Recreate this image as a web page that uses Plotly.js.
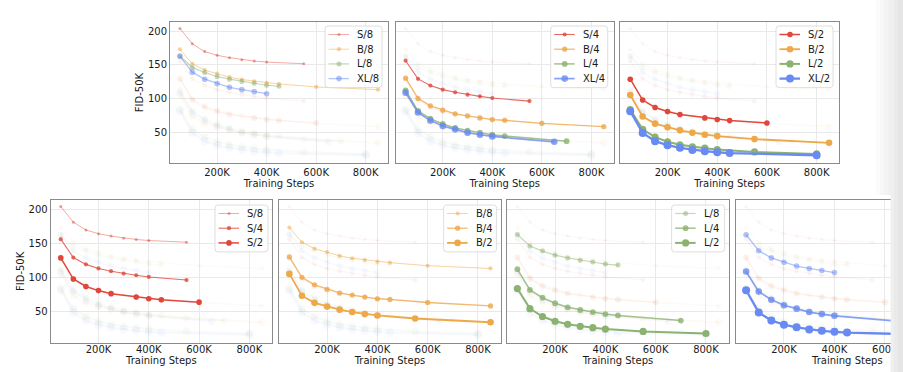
<!DOCTYPE html>
<html><head><meta charset="utf-8">
<script src="https://cdn.plot.ly/plotly-3.0.1.min.js"></script>
<style>html,body{margin:0;padding:0;background:#fff}#chart{width:903px;height:372px}</style>
</head><body><div id="chart"></div>
<script>
// ---------- data (training steps in thousands, FID-50K) ----------
const S8_steps = [50,100,150,200,250,300,350,400,550];
const S8_fid   = [204,181,169.5,164,160.5,157.5,155.5,154,151.5];
const S4_steps = [50,100,150,200,250,300,350,400,550];
const S4_fid   = [156,129,119,113,109,105.5,103,100.5,96];
const S2_steps = [50,100,150,200,250,350,400,450,600];
const S2_fid   = [128.5,97.5,86.5,80.5,76,71,68.5,67,63.5];
const B8_steps = [50,100,150,200,250,300,350,400,450,600,850];
const B8_fid   = [173,151.5,142,137,131.5,128,125.5,123,121.5,117,113];
const B4_steps = [50,100,150,200,250,300,350,400,450,600,850];
const B4_fid   = [130,100,89,82.5,77,74,71,68.5,67.5,63,58];
const B2_steps = [50,100,150,200,250,300,350,400,550,850];
const B2_fid   = [105,73,62.5,57,52.5,49,46,44,39.5,34];
const L8_steps = [50,100,150,200,250,300,350,400,450];
const L8_fid   = [163,146,138.5,132.5,128.5,125,122.5,119.5,118];
const L4_steps = [50,100,150,200,250,300,350,400,450,700];
const L4_fid   = [112,81.5,70,62,56,52,49,46,44,36.5];
const L2_steps = [50,100,150,200,250,300,350,400,550,800];
const L2_fid   = [83.5,54,42.5,35.5,31,28,26,24,20.5,17.5];
const XL8_steps = [50,100,150,200,250,300,350,400];
const XL8_fid   = [162.5,139,128.5,122,116.5,113,110,107];
const XL4_steps = [50,100,150,200,250,300,350,400,650];
const XL4_fid   = [108.5,79,67,59,54,49,46,43.5,35.5];
const XL2_steps = [50,100,150,200,250,300,350,400,450,800];
const XL2_fid   = [81,48.5,36.5,30.5,26.5,23.5,21.5,20,18.8,15.5];

const xTickVals = [200,400,600,800];
const xTickText = ['200K','400K','600K','800K'];
const yTickVals = [50,100,150,200];

const SERIES = [
  {name:'S/8',  model:'S',  patch:8, x:S8_steps,  y:S8_fid},
  {name:'B/8',  model:'B',  patch:8, x:B8_steps,  y:B8_fid},
  {name:'L/8',  model:'L',  patch:8, x:L8_steps,  y:L8_fid},
  {name:'XL/8', model:'XL', patch:8, x:XL8_steps, y:XL8_fid},
  {name:'S/4',  model:'S',  patch:4, x:S4_steps,  y:S4_fid},
  {name:'B/4',  model:'B',  patch:4, x:B4_steps,  y:B4_fid},
  {name:'L/4',  model:'L',  patch:4, x:L4_steps,  y:L4_fid},
  {name:'XL/4', model:'XL', patch:4, x:XL4_steps, y:XL4_fid},
  {name:'S/2',  model:'S',  patch:2, x:S2_steps,  y:S2_fid},
  {name:'B/2',  model:'B',  patch:2, x:B2_steps,  y:B2_fid},
  {name:'L/2',  model:'L',  patch:2, x:L2_steps,  y:L2_fid},
  {name:'XL/2', model:'XL', patch:2, x:XL2_steps, y:XL2_fid}
];

// ---------- styles ----------
const COLORS = {S:[224,71,60], B:[238,168,72], L:[139,178,112], XL:[104,138,242]};
const ALPHA  = {8:0.5, 4:0.8, 2:1};
const GHOST  = 0.055;
const MSIZE  = {S:{8:3,4:4.2,2:5.6}, B:{8:4.2,4:5.2,2:6.6}, L:{8:5,4:5.8,2:7.2}, XL:{8:5.6,4:6.6,2:8}};
const LWIDTH = {S:{8:0.9,4:1.1,2:1.5}, B:{8:1,4:1.3,2:1.8}, L:{8:1.2,4:1.5,2:2}, XL:{8:1.3,4:1.7,2:2.3}};

const W = 903, H = 372;
const PANELS = [
  {px:[170,388],     py:[22,163],    key:'patch', val:8,   ylab:true,  legend:true,  xr:[10,890]},
  {px:[395.7,613.7], py:[22,163],    key:'patch', val:4,   ylab:false, legend:true,  xr:[10,890]},
  {px:[620.3,839],   py:[22,163],    key:'patch', val:2,   ylab:false, legend:true,  xr:[10,890]},
  {px:[50.7,272],    py:[200,342.7], key:'model', val:'S', ylab:true,  legend:true,  xr:[10,890]},
  {px:[279.3,500.6], py:[200,342.7], key:'model', val:'B', ylab:false, legend:true,  xr:[10,890]},
  {px:[507.3,728.6], py:[200,342.7], key:'model', val:'L', ylab:false, legend:true,  xr:[10,890]},
  {px:[736,891],     py:[200,342.7], key:'model', val:'XL',ylab:false, legend:false, xr:[10,624], clipped:true}
];

const rgba = (c,a) => `rgba(${c[0]},${c[1]},${c[2]},${a})`;
const PX = p => p / W;
const PY = p => 1 - p / H;

const traces = [], shapes = [], annotations = [];
const layout = {
  width: W, height: H,
  margin: {l:0, r:0, t:0, b:0, pad:0},
  paper_bgcolor: '#ffffff', plot_bgcolor: '#ffffff',
  font: {family: 'DejaVu Sans, sans-serif', size: 10, color: '#1a1a1a'},
  showlegend: false
};

PANELS.forEach((p, i) => {
  const sfx = i === 0 ? '' : String(i + 1);
  const topRow = p.key === 'patch';
  const inPanel = s => s[p.key] === p.val;
  const ghosts = SERIES.filter(s => !inPanel(s));
  const mains = SERIES.filter(inPanel);
  const add = (s, a) => {
    const c = COLORS[s.model];
    traces.push({
      type: 'scatter', mode: 'lines+markers', name: s.name,
      x: s.x, y: s.y, xaxis: 'x' + sfx, yaxis: 'y' + sfx,
      line: {color: rgba(c, a), width: LWIDTH[s.model][s.patch]},
      marker: {color: rgba(c, a), size: MSIZE[s.model][s.patch] + (a === GHOST ? 0.5 : 0), line: {width: 0}},
      hoverinfo: 'skip', cliponaxis: true
    });
  };
  ghosts.forEach(s => add(s, GHOST));
  mains.forEach(s => add(s, ALPHA[s.patch]));

  layout['xaxis' + sfx] = {
    domain: [PX(p.px[0]), PX(p.px[1])], range: p.xr, anchor: 'y' + sfx,
    tickvals: xTickVals, ticktext: xTickText, ticks: '',
    ticklabelstandoff: topRow ? 0 : -3,
    showgrid: true, gridcolor: '#e9e9e9', gridwidth: 1, zeroline: false,
    showline: true, mirror: true, linecolor: '#8a8a8a', linewidth: 1,
    tickfont: {size: 10}, fixedrange: true, automargin: false,
    title: p.clipped ? {text: ''} : {text: 'Training Steps', font: {size: 10}, standoff: topRow ? 0.5 : 2}
  };
  layout['yaxis' + sfx] = {
    domain: [PY(p.py[1]), PY(p.py[0])], range: [4, 213.5], anchor: 'x' + sfx,
    tickvals: yTickVals, ticks: '', showticklabels: p.ylab,
    showgrid: true, gridcolor: '#e9e9e9', gridwidth: 1, zeroline: false,
    showline: true, mirror: true, linecolor: '#8a8a8a', linewidth: 1,
    tickfont: {size: 10}, fixedrange: true, automargin: false,
    title: p.ylab ? {text: 'FID-50K', font: {size: 10}, standoff: 2} : {text: ''}
  };
  if (p.clipped) {
    const fullRight = p.px[0] + (p.px[1] - p.px[0]) * (890 - 10) / (p.xr[1] - p.xr[0]);
    annotations.push({xref:'paper', yref:'paper', x: PX((p.px[0] + fullRight) / 2), y: PY(p.py[1] + 17.8),
      text: 'Training Steps', showarrow: false, xanchor: 'center', yanchor: 'middle', font: {size: 10}, borderpad: 0});
  }

  if (p.legend) {
    const top = p.py[0] + (topRow ? 4 : 5);
    const right = p.px[1] - (topRow ? 6 : 4);
    const bw = topRow ? 57 : 53;
    const left = right - bw;
    const n = mains.length;
    const bh = 8.5 + (n - 1) * 14.7 + 9;
    const bottom = top + bh;
    const r = 3;
    const pt = (x, y) => `${PX(x)},${PY(y)}`;
    const path = `M${pt(left + r, top)} L${pt(right - r, top)} Q${pt(right, top)} ${pt(right, top + r)} ` +
      `L${pt(right, bottom - r)} Q${pt(right, bottom)} ${pt(right - r, bottom)} ` +
      `L${pt(left + r, bottom)} Q${pt(left, bottom)} ${pt(left, bottom - r)} ` +
      `L${pt(left, top + r)} Q${pt(left, top)} ${pt(left + r, top)} Z`;
    shapes.push({type:'path', xref:'paper', yref:'paper', path, layer:'above',
      fillcolor:'rgba(255,255,255,0.85)', line:{color:'#d6d6d6', width:0.8}});
    mains.forEach((s, j) => {
      const c = COLORS[s.model], a = ALPHA[s.patch];
      const cy = top + 8.5 + j * 14.7;
      shapes.push({type:'line', xref:'paper', yref:'paper', layer:'above',
        x0: PX(left + 3.5), x1: PX(left + 24), y0: PY(cy), y1: PY(cy),
        line: {color: rgba(c, a), width: LWIDTH[s.model][s.patch]}});
      const rr = MSIZE[s.model][s.patch] / 2;
      const cx = left + 14;
      shapes.push({type:'circle', xref:'paper', yref:'paper', layer:'above',
        x0: PX(cx - rr), x1: PX(cx + rr), y0: PY(cy + rr), y1: PY(cy - rr),
        fillcolor: rgba(c, a), line: {width: 0}});
      annotations.push({xref:'paper', yref:'paper', x: PX(left + 31), y: PY(cy), text: s.name,
        showarrow:false, xanchor:'left', yanchor:'middle', font:{size:10}, borderpad:0});
    });
  }
});

// page edge shading at the right (the reference is a cropped screenshot)
const EDGE = [[876,880,'#fbfbfb',0,195],[880,884,'#f7f7f7',0,195],[884,888,'#f3f3f3',0,195],[888,891,'#f0f0f0',0,195]];
EDGE.forEach(e => shapes.push({type:'rect', xref:'paper', yref:'paper', layer:'below',
  x0: PX(e[0]), x1: PX(e[1]), y0: PY(e[4]), y1: PY(e[3]), fillcolor: e[2], line:{width:0}}));
const EDGE2 = [[890.6,894,'#efefef'],[894,898,'#eaeaea'],[898,903,'#e5e5e5']];
EDGE2.forEach(e => shapes.push({type:'rect', xref:'paper', yref:'paper', layer:'above',
  x0: PX(e[0]), x1: PX(e[1]), y0: 0, y1: 1, fillcolor: e[2], line:{width:0}}));

layout.shapes = shapes;
layout.annotations = annotations;

Plotly.newPlot('chart', traces, layout, {staticPlot: true, displayModeBar: false});
</script>
</body></html>
